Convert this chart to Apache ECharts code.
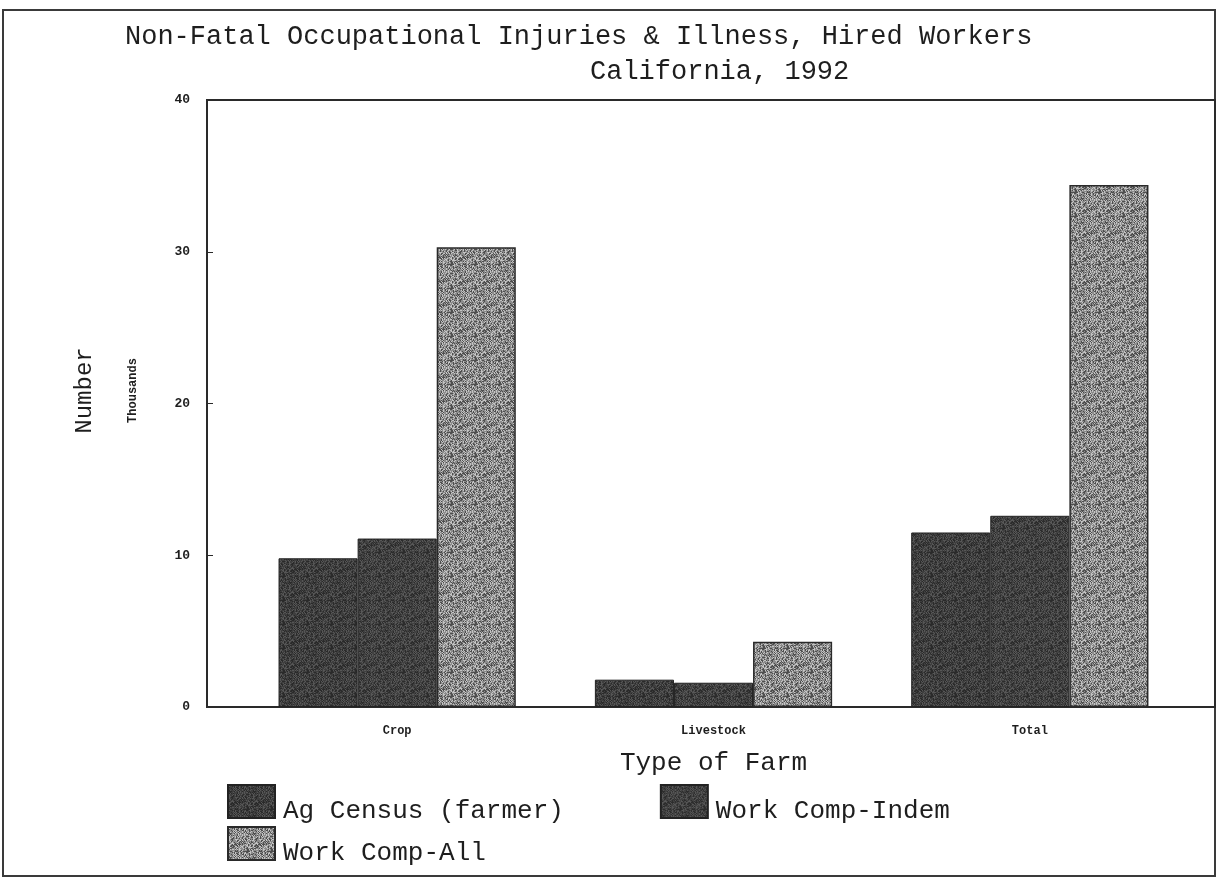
<!DOCTYPE html>
<html>
<head>
<meta charset="utf-8">
<script src="https://cdn.jsdelivr.net/npm/echarts@6/dist/echarts.min.js"></script>
<style>
  html, body { margin: 0; padding: 0; background: #ffffff; }
  #chart { width: 1217px; height: 878px; }
</style>
</head>
<body>
<div id="chart"></div>
<script>
// Non-fatal occupational injuries & illness among hired farm workers, California 1992 (thousands)
const categories = ['Crop', 'Livestock', 'Total'];
const seriesNames = ['Ag Census (farmer)', 'Work Comp-Indem', 'Work Comp-All'];
const agCensus = [9.8, 1.8, 11.5];
const workCompIndem = [11.1, 1.6, 12.6];
const workCompAll = [30.3, 4.3, 34.4];
const yTicks = { min: 0, max: 40, step: 10 };

const MONO = '"Liberation Mono", "Courier New", "DejaVu Sans Mono", monospace';
const INK = '#1e1e1e';

// Grainy fill tiles, built from a fixed hash so every render is identical
function grainTile(base, light, dark, size) {
  const c = document.createElement('canvas');
  c.width = size; c.height = size;
  const g = c.getContext('2d');
  g.fillStyle = base;
  g.fillRect(0, 0, size, size);
  for (let y = 0; y < size; y++) {
    for (let x = 0; x < size; x++) {
      const h = ((x * 73856093) ^ (y * 19349663) ^ ((x + y) * 83492791)) >>> 0;
      const k = h % 11;
      if (k < 3) { g.fillStyle = light; g.fillRect(x, y, 1, 1); }
      else if (k > 7) { g.fillStyle = dark; g.fillRect(x, y, 1, 1); }
    }
  }
  return c;
}

const fillDark1 = { image: grainTile('#3e3e3e', '#565656', '#2a2a2a', 24), repeat: 'repeat' };
const fillDark2 = { image: grainTile('#414141', '#585858', '#2c2c2c', 24), repeat: 'repeat' };
const fillLight = { image: grainTile('#8c8c8c', '#c4c4c4', '#4e4e4e', 24), repeat: 'repeat' };

// legend labels sit low, level with the bottom of their swatch
const legendText = {
  fontFamily: MONO, fontSize: 26, color: INK,
  rich: { low: { fontFamily: MONO, fontSize: 26, color: INK, padding: [20, 0, 0, 3] } }
};
const legendFormatter = (name) => '{low|' + name + '}';

const chart = echarts.init(document.getElementById('chart'), null, { renderer: 'canvas' });

const option = {
  backgroundColor: '#ffffff',
  animation: false,
  title: [
    {
      text: 'Non-Fatal Occupational Injuries & Illness, Hired Workers',
      left: 120, top: 18,
      textStyle: { fontFamily: MONO, fontSize: 27, fontWeight: 'normal', color: INK }
    },
    {
      text: 'California, 1992',
      left: 585, top: 53,
      textStyle: { fontFamily: MONO, fontSize: 27, fontWeight: 'normal', color: INK }
    }
  ],
  legend: [
    {
      data: [seriesNames[0], seriesNames[1]],
      left: 227, top: 784, padding: 0,
      orient: 'horizontal',
      icon: 'rect',
      itemWidth: 47, itemHeight: 33, itemGap: 96,
      formatter: legendFormatter,
      textStyle: legendText
    },
    {
      data: [seriesNames[2]],
      left: 227, top: 826, padding: 0,
      orient: 'horizontal',
      icon: 'rect',
      itemWidth: 47, itemHeight: 33,
      formatter: legendFormatter,
      textStyle: legendText
    }
  ],
  grid: [
    // frame with the value scale
    { left: 207, right: 2, top: 100, bottom: 171, show: true, borderColor: '#2a2a2a', borderWidth: 2, backgroundColor: 'transparent' },
    // bar area
    { left: 239, right: 29, top: 100, bottom: 171 }
  ],
  xAxis: [
    { gridIndex: 0, type: 'value', show: false, min: 0, max: 1 },
    {
      gridIndex: 1, type: 'category', data: categories,
      axisLine: { show: false }, axisTick: { show: false },
      axisLabel: { fontFamily: MONO, fontSize: 12, fontWeight: 'bold', color: INK, margin: 18 },
      name: 'Type of Farm', nameLocation: 'middle', nameGap: 43,
      nameTextStyle: { fontFamily: MONO, fontSize: 26, color: INK }
    }
  ],
  yAxis: [
    {
      gridIndex: 0, type: 'value',
      min: yTicks.min, max: yTicks.max, interval: yTicks.step,
      splitLine: { show: false },
      axisLine: { show: true, lineStyle: { color: '#2a2a2a', width: 2 } },
      axisTick: { show: true, inside: true, length: 6, lineStyle: { color: '#2a2a2a' } },
      axisLabel: { fontFamily: MONO, fontSize: 13, fontWeight: 'bold', color: INK, margin: 17 },
      name: 'Thousands', nameLocation: 'middle', nameRotate: 90, nameGap: 68,
      nameTextStyle: { fontFamily: MONO, fontSize: 12, fontWeight: 'bold', color: INK, padding: [0, 0, 0, 26] }
    },
    {
      gridIndex: 1, type: 'value',
      min: yTicks.min, max: yTicks.max, interval: yTicks.step,
      splitLine: { show: false }, axisLine: { show: false }, axisTick: { show: false },
      axisLabel: { show: false },
      name: 'Number', nameLocation: 'middle', nameRotate: 90, nameGap: 142,
      nameTextStyle: { fontFamily: MONO, fontSize: 24, color: INK, padding: [0, 0, 0, 26] }
    }
  ],
  series: [
    {
      name: seriesNames[0], type: 'bar', xAxisIndex: 1, yAxisIndex: 1,
      data: agCensus, barGap: '0%', barCategoryGap: '25%',
      itemStyle: { color: fillDark1, borderColor: '#222222', borderWidth: 1 }
    },
    {
      name: seriesNames[1], type: 'bar', xAxisIndex: 1, yAxisIndex: 1,
      data: workCompIndem, barGap: '0%', barCategoryGap: '25%',
      itemStyle: { color: fillDark2, borderColor: '#222222', borderWidth: 1 }
    },
    {
      name: seriesNames[2], type: 'bar', xAxisIndex: 1, yAxisIndex: 1,
      data: workCompAll, barGap: '0%', barCategoryGap: '25%',
      itemStyle: { color: fillLight, borderColor: '#2a2a2a', borderWidth: 1.5 }
    }
  ],
  graphic: [
    {
      type: 'rect', silent: true, z: -1,
      shape: { x: 3, y: 10, width: 1212, height: 866 },
      style: { fill: 'none', stroke: '#3a3a3a', lineWidth: 2 }
    }
  ]
};

chart.setOption(option);
</script>
</body>
</html>
